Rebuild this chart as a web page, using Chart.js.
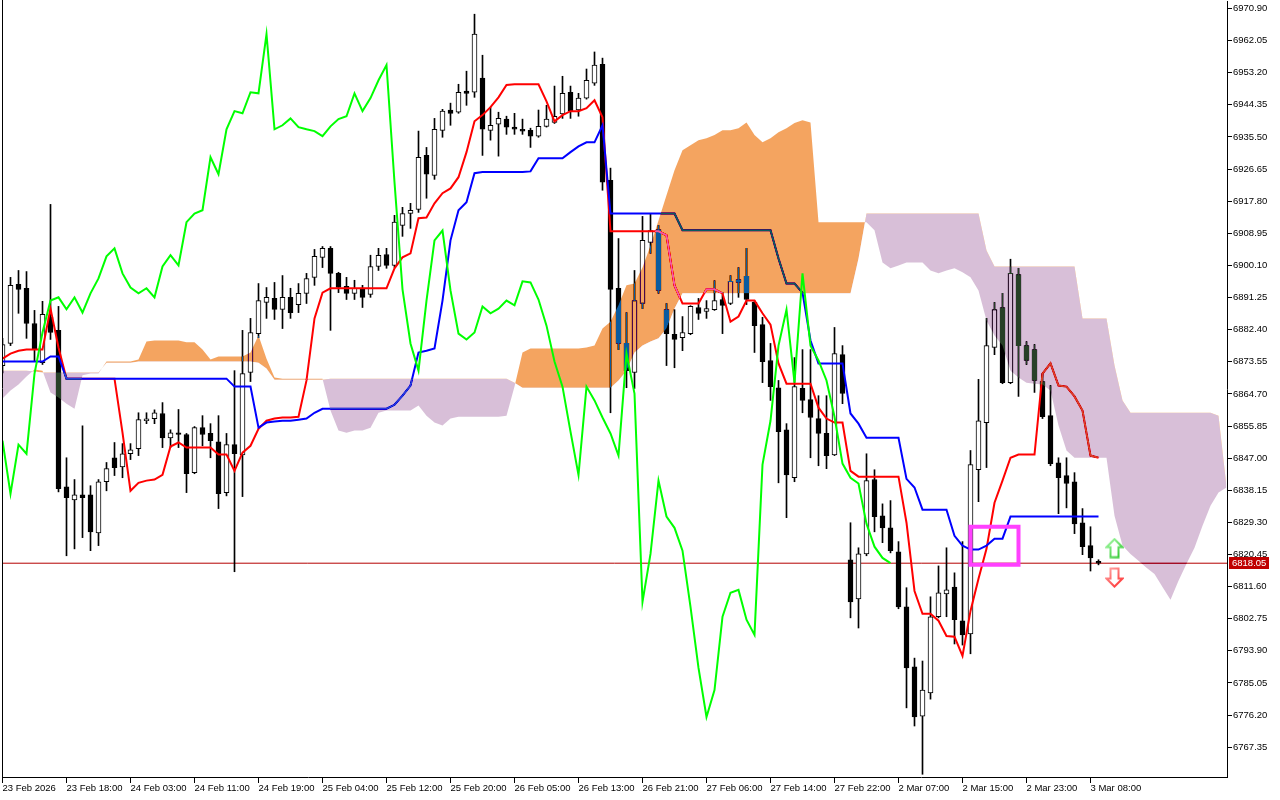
<!DOCTYPE html>
<html>
<head>
<meta charset="utf-8">
<script src="https://cdn.jsdelivr.net/npm/chart.js@4.4.1/dist/chart.umd.min.js"></script>
<style>
html, body { margin: 0; padding: 0; background: #fff; }
canvas { display: block; }
</style>
</head>
<body>
<canvas id="chart" width="1280" height="800"></canvas>
<script>
// hourly candles, bar index 0..137
const opens = [6872.5,6878.6,6894.9,6893.8,6884.1,6873.3,6885.8,6882.2,6839.1,6835.5,
  6836.9,6836.9,6826.4,6840.5,6847.1,6844.6,6848.2,6849.6,6857.3,6857.9,
  6859.3,6852.6,6854.0,6853.5,6843.0,6855.4,6853.8,6851.5,6837.5,6850.7,
  6847.9,6870.6,6881.3,6889.9,6891.0,6888.0,6891.3,6889.3,6892.4,6896.8,
  6902.3,6904.8,6897.9,6894.3,6892.4,6893.8,6892.1,6899.8,6903.1,6900.1,
  6911.1,6914.4,6915.5,6930.4,6924.9,6937.3,6942.9,6942.3,6948.1,6947.8,
  6951.7,6937.3,6939.0,6940.4,6938.2,6937.6,6937.3,6935.7,6938.4,6939.5,
  6941.8,6947.8,6942.9,6946.2,6950.3,6955.5,6923.5,6893.8,6878.6,6870.6,
  6889.6,6906.4,6910.0,6887.9,6881.1,6880.2,6881.3,6888.5,6887.4,6887.9,
  6890.7,6889.6,6896.2,6897.1,6889.9,6883.8,6873.9,6866.4,6854.8,6841.6,
  6866.2,6863.1,6857.9,6853.8,6847.9,6875.5,6819.0,6808.2,6820.6,6841.1,
  6831.1,6827.8,6821.2,6806.0,6789.5,6775.9,6782.3,6803.3,6809.6,6811.5,
  6802.2,6798.6,6843.8,6856.8,6877.5,6888.5,6867.8,6897.6,6878.0,6876.9,
  6868.1,6858.7,6845.7,6842.2,6840.5,6829.2,6822.9,6818.6];
const highs = [6880.0,6896.8,6898.7,6898.4,6887.7,6890.2,6916.9,6888.8,6847.1,6841.1,
  6855.9,6839.4,6841.1,6845.8,6851.3,6851.0,6851.0,6859.5,6859.5,6860.3,
  6862.3,6854.8,6860.4,6853.8,6855.7,6858.7,6856.5,6858.7,6853.8,6871.1,
  6882.2,6885.5,6895.1,6894.0,6895.4,6897.3,6893.8,6895.1,6897.9,6904.5,
  6905.3,6905.3,6898.2,6896.8,6896.0,6894.6,6902.9,6904.8,6904.8,6913.9,
  6916.1,6917.2,6937.1,6932.6,6940.6,6943.1,6944.8,6950.0,6953.6,6969.3,
  6958.0,6943.7,6942.3,6941.2,6942.0,6940.4,6937.9,6942.9,6944.2,6949.5,
  6952.2,6949.5,6947.5,6954.2,6958.9,6957.2,6926.9,6907.5,6887.1,6898.7,
  6913.6,6914.4,6911.1,6889.6,6887.9,6886.0,6889.0,6891.0,6890.4,6895.9,
  6892.6,6897.3,6899.5,6904.8,6890.4,6885.8,6878.6,6868.4,6856.5,6874.7,
  6876.9,6876.9,6864.2,6864.2,6883.0,6878.0,6829.2,6822.3,6848.2,6843.8,
  6834.4,6835.3,6824.0,6811.3,6791.9,6791.1,6808.8,6817.3,6822.3,6815.4,
  6824.0,6849.1,6868.7,6885.5,6889.9,6892.4,6901.8,6899.3,6879.1,6878.3,
  6870.3,6867.0,6847.1,6847.1,6843.0,6833.1,6828.1,6819.0];
const lows = [6870.5,6878.0,6886.9,6880.0,6873.6,6872.8,6879.7,6837.7,6820.1,6822.0,
  6825.1,6821.5,6822.9,6838.0,6842.2,6841.6,6846.6,6847.7,6856.5,6856.5,
  6849.9,6849.9,6849.9,6837.5,6842.7,6850.4,6847.1,6833.1,6836.6,6815.7,
  6836.4,6868.1,6880.2,6885.5,6885.2,6882.7,6885.5,6887.1,6889.6,6894.6,
  6899.5,6882.2,6892.6,6890.7,6890.7,6888.5,6891.3,6898.7,6899.3,6899.5,
  6908.1,6910.3,6914.7,6918.6,6923.8,6935.4,6938.7,6942.0,6944.2,6946.4,
  6930.4,6934.6,6930.2,6936.2,6936.2,6936.2,6932.6,6935.4,6938.2,6939.2,
  6940.6,6940.6,6941.2,6945.9,6949.7,6920.8,6859.5,6876.9,6866.4,6866.2,
  6888.2,6903.4,6892.4,6872.5,6871.9,6876.6,6881.0,6885.2,6885.5,6887.7,
  6881.3,6889.3,6891.3,6889.3,6876.1,6867.8,6862.9,6840.2,6830.6,6840.5,
  6859.5,6847.1,6844.9,6844.1,6847.7,6862.0,6803.0,6800.2,6820.1,6826.7,
  6823.7,6820.9,6805.5,6778.2,6773.2,6759.9,6780.6,6803.0,6803.3,6795.8,
  6795.5,6793.1,6835.0,6844.4,6875.5,6867.5,6867.5,6864.0,6872.8,6865.1,
  6857.9,6844.9,6831.7,6833.3,6826.2,6820.4,6815.9,6817.6];
const closes = [6878.3,6894.6,6893.5,6884.1,6876.9,6886.6,6881.6,6838.6,6836.1,6836.9,
  6836.1,6826.7,6840.5,6844.1,6844.4,6848.2,6849.3,6857.6,6857.8,6859.5,
  6852.6,6854.0,6853.5,6842.7,6855.4,6853.5,6851.8,6837.2,6850.7,6848.2,
  6870.3,6881.6,6890.4,6891.3,6888.0,6891.3,6887.1,6892.4,6896.5,6902.6,
  6904.8,6897.9,6894.0,6892.4,6893.8,6891.3,6899.8,6902.9,6900.1,6912.0,
  6914.4,6915.3,6929.9,6925.2,6937.6,6942.6,6942.0,6947.8,6947.5,6963.8,
  6937.6,6938.7,6940.6,6938.2,6937.6,6937.1,6935.7,6938.4,6940.4,6941.2,
  6947.5,6942.6,6946.2,6951.1,6955.3,6923.0,6893.5,6878.6,6871.1,6890.4,
  6907.0,6909.7,6893.2,6881.3,6879.7,6881.6,6888.8,6886.9,6888.2,6890.4,
  6889.1,6895.7,6895.4,6890.7,6883.5,6873.6,6866.7,6854.3,6842.4,6866.7,
  6862.9,6858.2,6853.8,6847.7,6875.8,6864.8,6807.4,6820.6,6840.8,6830.9,
  6827.8,6821.5,6806.0,6789.2,6775.7,6783.1,6803.3,6809.9,6810.7,6802.5,
  6798.3,6845.2,6857.3,6878.0,6887.9,6867.8,6897.9,6878.0,6873.9,6868.4,
  6858.4,6845.5,6841.6,6840.0,6828.9,6822.6,6819.5,6818.05];

// Ichimoku lines
const tenkan = [6874.4,6875.8,6876.6,6876.9,6876.9,6876.9,6888.2,6877.5,6868.9,6868.9,
  6868.9,6868.9,6868.9,6868.9,6868.9,6854.0,6838.0,6840.2,6840.8,6841.1,
  6842.4,6850.2,6851.3,6849.9,6849.9,6849.9,6849.9,6848.0,6848.0,6843.5,
  6848.5,6850.4,6855.1,6857.3,6857.9,6858.2,6858.2,6858.4,6868.4,6885.5,
  6892.6,6893.8,6893.8,6893.8,6893.8,6893.8,6893.8,6893.8,6893.8,6899.3,
  6902.3,6903.4,6913.1,6913.3,6917.2,6920.0,6921.3,6924.4,6931.3,6939.8,
  6941.5,6943.7,6946.4,6949.8,6950.0,6950.0,6950.0,6950.0,6945.3,6939.8,
  6941.5,6942.6,6942.6,6943.4,6945.6,6940.9,6909.5,6909.5,6909.5,6909.5,
  6909.5,6909.5,6909.5,6908.4,6894.6,6889.6,6889.6,6889.6,6893.5,6893.5,
  6892.4,6884.6,6886.0,6890.4,6890.4,6886.9,6883.8,6873.1,6867.5,6867.5,
  6867.5,6867.5,6860.9,6857.9,6856.8,6856.8,6843.5,6841.9,6841.9,6841.9,
  6841.9,6841.9,6841.9,6829.2,6810.4,6804.1,6804.1,6802.2,6798.0,6797.8,
  6792.5,6804.9,6813.8,6822.0,6834.7,6840.8,6847.1,6848.0,6848.0,6848.0,
  6870.3,6873.1,6867.0,6866.7,6864.0,6860.1,6847.7,6847.1];
const kijun = [6873.6,6873.6,6873.6,6873.6,6873.6,6873.6,6875.0,6875.0,6868.9,6868.9,
  6868.9,6868.9,6868.9,6868.9,6868.9,6868.9,6868.9,6868.9,6868.9,6868.9,
  6868.9,6868.9,6868.9,6868.9,6868.9,6868.9,6868.9,6868.9,6868.9,6866.7,
  6866.7,6866.7,6855.4,6856.8,6857.1,6857.3,6857.3,6857.6,6857.9,6859.5,
  6860.6,6860.6,6860.6,6860.6,6860.6,6860.6,6860.6,6860.6,6860.6,6861.7,
  6864.2,6867.0,6876.1,6876.6,6877.2,6890.4,6907.0,6915.3,6917.5,6925.5,
  6925.8,6925.8,6925.8,6925.8,6925.8,6925.8,6926.0,6929.6,6929.6,6929.6,
  6929.6,6931.3,6932.9,6934.0,6934.0,6938.7,6914.4,6914.4,6914.4,6914.4,
  6914.4,6914.4,6914.4,6914.4,6914.4,6909.8,6909.8,6909.8,6909.8,6909.8,
  6909.8,6909.8,6909.8,6909.8,6909.8,6909.8,6909.8,6902.0,6895.1,6895.1,
  6892.6,6879.4,6873.1,6873.1,6873.1,6873.1,6859.3,6856.5,6852.6,6852.6,
  6852.6,6852.6,6852.6,6841.3,6838.9,6832.8,6832.8,6832.8,6832.8,6825.6,
  6822.9,6821.8,6821.8,6822.9,6824.8,6824.8,6830.9,6830.9,6830.9,6830.9,
  6830.9,6830.9,6830.9,6830.9,6830.9,6830.9,6830.9,6830.9];
// lagging line, bars 0..111
const chikou = [6851.8,6837.2,6850.7,6848.2,6870.3,6881.6,6890.4,6891.3,6888.0,6891.3,
  6887.1,6892.4,6896.5,6902.6,6904.8,6897.9,6894.0,6892.4,6893.8,6891.3,
  6899.8,6902.9,6900.1,6912.0,6914.4,6915.3,6929.9,6925.2,6937.6,6942.6,
  6942.0,6947.8,6947.5,6963.8,6937.6,6938.7,6940.6,6938.2,6937.6,6937.1,
  6935.7,6938.4,6940.4,6941.2,6947.5,6942.6,6946.2,6951.1,6955.3,6923.0,
  6893.5,6878.6,6871.1,6890.4,6907.0,6909.7,6893.2,6881.3,6879.7,6881.6,
  6888.8,6886.9,6888.2,6890.4,6889.1,6895.7,6895.4,6890.7,6883.5,6873.6,
  6866.7,6854.3,6842.4,6866.7,6862.9,6858.2,6853.8,6847.7,6875.8,6864.8,
  6807.4,6820.6,6840.8,6830.9,6827.8,6821.5,6806.0,6789.2,6775.7,6783.1,
  6803.3,6809.9,6810.7,6802.5,6798.3,6845.2,6857.3,6878.0,6887.9,6867.8,
  6897.9,6878.0,6873.9,6868.4,6858.4,6845.5,6841.6,6840.0,6828.9,6822.6,
  6819.5,6818.05];
// cloud edges, bars 0..153
const spanA = [6863.4,6865.6,6867.3,6869.5,6871.4,6871.1,6865.1,6863.7,6862.0,6860.6,
  6869.8,6870.3,6870.3,6873.6,6873.6,6873.6,6873.6,6874.2,6879.1,6879.4,
  6879.4,6879.4,6879.4,6878.9,6878.9,6876.9,6874.2,6875.0,6875.0,6875.0,
  6875.0,6876.1,6880.8,6874.4,6869.2,6868.9,6868.9,6868.9,6868.9,6868.9,
  6868.9,6860.1,6854.6,6854.0,6854.6,6854.6,6855.4,6859.5,6860.1,6860.1,
  6860.1,6860.1,6861.5,6858.7,6856.8,6856.0,6857.9,6858.4,6858.4,6858.4,
  6858.4,6858.4,6858.4,6858.7,6866.7,6876.1,6877.2,6877.2,6877.2,6877.2,
  6877.2,6877.2,6877.2,6877.5,6878.0,6882.7,6884.6,6889.1,6894.6,6895.1,
  6899.5,6905.6,6912.5,6919.4,6926.3,6931.8,6933.2,6934.6,6935.1,6936.0,
  6937.3,6937.3,6937.9,6939.5,6936.0,6934.0,6935.1,6936.8,6937.9,6939.3,
  6940.1,6939.5,6912.0,6912.0,6912.0,6912.0,6912.0,6912.0,6912.0,6909.8,
  6900.9,6899.3,6900.1,6900.9,6900.9,6900.9,6898.7,6897.9,6898.7,6899.3,
  6898.2,6896.8,6893.2,6884.9,6880.8,6878.0,6871.1,6869.2,6867.8,6867.5,
  6867.3,6865.6,6856.0,6849.1,6847.1,6847.1,6847.1,6847.1,6847.1,6831.1,
  6822.9,6820.6,6818.7,6816.8,6815.1,6811.5,6808.0,6813.2,6817.9,6822.3,
  6828.4,6833.9,6837.5,6838.9];
const spanB = [6871.1,6871.1,6871.1,6871.1,6870.9,6870.6,6870.6,6870.6,6870.6,6870.6,
  6870.6,6870.6,6870.6,6873.3,6873.3,6873.3,6873.3,6873.6,6873.6,6873.6,
  6873.6,6873.6,6873.6,6873.6,6873.6,6873.6,6873.6,6873.6,6873.6,6873.6,
  6873.6,6873.6,6873.3,6871.7,6868.6,6868.6,6868.6,6868.6,6868.6,6868.6,
  6868.6,6868.9,6868.9,6868.9,6868.9,6868.9,6868.9,6868.9,6868.9,6868.9,
  6868.9,6868.9,6868.9,6868.9,6868.9,6868.9,6868.9,6868.9,6868.9,6868.9,
  6868.9,6868.9,6868.9,6868.9,6867.8,6866.4,6866.4,6866.4,6866.4,6866.4,
  6866.4,6866.4,6866.4,6866.4,6866.4,6866.4,6866.4,6868.4,6871.1,6876.1,
  6878.0,6879.1,6880.0,6882.7,6888.2,6892.4,6892.4,6892.4,6892.4,6892.4,
  6892.4,6892.4,6892.4,6892.4,6892.4,6892.4,6892.4,6892.4,6892.4,6892.4,
  6892.4,6892.4,6892.4,6892.4,6892.4,6892.4,6892.4,6902.0,6914.4,6914.4,
  6914.4,6914.4,6914.4,6914.4,6914.4,6914.4,6914.4,6914.4,6914.4,6914.4,
  6914.4,6914.4,6914.4,6904.2,6899.8,6899.8,6899.8,6899.8,6899.8,6899.8,
  6899.8,6899.8,6899.8,6899.8,6899.8,6885.5,6885.5,6885.5,6885.5,6872.5,
  6862.9,6859.5,6859.5,6859.5,6859.5,6859.5,6859.5,6859.5,6859.5,6859.5,
  6859.5,6859.5,6858.7,6839.1];

const timeTickBars = [0, 8, 16, 24, 32, 40, 48, 56, 64, 72, 80, 88, 96, 104, 112, 120, 128, 136];
const timeLabels = ['23 Feb 2026', '23 Feb 18:00', '24 Feb 03:00', '24 Feb 11:00', '24 Feb 19:00',
  '25 Feb 04:00', '25 Feb 12:00', '25 Feb 20:00', '26 Feb 05:00', '26 Feb 13:00', '26 Feb 21:00',
  '27 Feb 06:00', '27 Feb 14:00', '27 Feb 22:00', '2 Mar 07:00', '2 Mar 15:00', '2 Mar 23:00', '3 Mar 08:00'];
const priceTicks = [6767.35, 6776.20, 6785.05, 6793.90, 6802.75, 6811.60, 6820.45, 6829.30,
  6838.15, 6847.00, 6855.85, 6864.70, 6873.55, 6882.40, 6891.25, 6900.10, 6908.95, 6917.80,
  6926.65, 6935.50, 6944.35, 6953.20, 6962.05, 6970.90];
const lastPrice = 6818.05;
const boxBars = [121, 127];
const boxPrices = [6817.6, 6828.1];
const arrowBar = 139;
const arrowUpPrice = 6822.2;
const arrowDownPrice = 6814.1;

const FONT = { family: '"Liberation Sans", Arial, sans-serif', size: 9.5 };

function makeArrow(up, c1, c2) {
  const cv = document.createElement('canvas');
  cv.width = 19; cv.height = 21;
  const g = cv.getContext('2d');
  let pts = [[9.5, 1.5], [17.5, 9.5], [13.5, 9.5], [13.5, 19.5], [5.5, 19.5], [5.5, 9.5], [1.5, 9.5]];
  if (!up) pts = pts.map(p => [p[0], 21 - p[1]]);
  g.beginPath();
  pts.forEach((p, i) => i ? g.lineTo(p[0], p[1]) : g.moveTo(p[0], p[1]));
  g.closePath();
  g.fillStyle = '#fff';
  g.fill();
  const grad = g.createLinearGradient(0, 0, 19, 21);
  grad.addColorStop(0, c1);
  grad.addColorStop(1, c2);
  g.strokeStyle = grad;
  g.lineWidth = 2;
  g.stroke();
  return cv;
}

const bars = closes.map((c, i) => i);
const SPAN_B = 5, SPAN_A = 6;

const cloudBlend = {
  id: 'cloudBlend',
  beforeDatasetDraw(chart, args) {
    if (args.index === SPAN_B) chart.ctx.globalCompositeOperation = 'difference';
  },
  afterDatasetDraw(chart, args) {
    if (args.index === SPAN_A) chart.ctx.globalCompositeOperation = 'source-over';
  }
};

const frame = {
  id: 'frame',
  beforeDraw(chart) {
    const ctx = chart.ctx;
    ctx.save();
    ctx.fillStyle = '#fff';
    ctx.fillRect(0, 0, chart.width, chart.height);
    ctx.restore();
  },
  afterDraw(chart) {
    const { ctx, chartArea } = chart;
    ctx.save();
    ctx.strokeStyle = '#000';
    ctx.lineWidth = 1;
    ctx.beginPath();
    ctx.moveTo(2.5, chartArea.top - 1);
    ctx.lineTo(2.5, chartArea.bottom);
    ctx.stroke();
    // current price tag
    const y = Math.round(chart.scales.y.getPixelForValue(lastPrice));
    ctx.fillStyle = '#c00000';
    ctx.fillRect(1229, y - 6, 40, 12);
    ctx.fillStyle = '#fff';
    ctx.font = '9.5px "Liberation Sans", Arial, sans-serif';
    ctx.textBaseline = 'middle';
    ctx.fillText(lastPrice.toFixed(2), 1232, y + 0.5);
    ctx.restore();
  }
};

const line = (data, color, order, width) => ({
  type: 'line', data, borderColor: color, borderWidth: width || 2, pointRadius: 0,
  fill: false, tension: 0, order
});

new Chart(document.getElementById('chart'), {
  type: 'line',
  data: {
    datasets: [
      line([{ x: -1, y: lastPrice }, { x: 154, y: lastPrice }], '#b40000', 12, 1),
      {
        type: 'bar', data: bars.map(i => ({ x: i, y: [lows[i], highs[i]] })),
        backgroundColor: '#000', barThickness: 1, grouped: false, order: 11
      },
      {
        type: 'bar', data: bars.map(i => ({ x: i, y: [opens[i], closes[i]] })),
        backgroundColor: bars.map(i => closes[i] >= opens[i] ? '#fff' : '#000'),
        borderColor: '#000', borderWidth: 1, borderSkipped: false,
        barThickness: 5, grouped: false, order: 10
      },
      line(tenkan.map((v, i) => ({ x: i, y: v })), '#ff0000', 7),
      line(kijun.map((v, i) => ({ x: i, y: v })), '#0000ff', 6),
      {
        type: 'line', data: spanB.map((v, i) => ({ x: i, y: v })),
        borderColor: 'rgba(0,0,0,0)', borderWidth: 1, pointRadius: 0, fill: false, order: 4
      },
      {
        type: 'line', data: spanA.map((v, i) => ({ x: i, y: v })),
        borderColor: 'rgba(0,0,0,0)', borderWidth: 1, pointRadius: 0, order: 3,
        // inverted colours, drawn with 'difference' so white shows sandybrown / thistle
        fill: { target: SPAN_B, above: 'rgb(11,91,159)', below: 'rgb(39,64,39)' }
      },
      line(chikou.map((v, i) => ({ x: i, y: v })), '#00ff00', 2),
      {
        type: 'line',
        data: [
          { x: boxBars[0], y: boxPrices[1] }, { x: boxBars[1], y: boxPrices[1] },
          { x: boxBars[1], y: boxPrices[0] }, { x: boxBars[0], y: boxPrices[0] },
          { x: boxBars[0], y: boxPrices[1] }
        ],
        borderColor: '#ff40ff', borderWidth: 4, pointRadius: 0, fill: false,
        borderJoinStyle: 'miter', borderCapStyle: 'square', order: 1
      },
      {
        type: 'line', showLine: false,
        data: [{ x: arrowBar, y: arrowUpPrice }, { x: arrowBar, y: arrowDownPrice }],
        pointStyle: [makeArrow(true, '#b0ffb0', '#20c020'), makeArrow(false, '#ffb0b0', '#ff2020')],
        pointRadius: 10, order: 0
      }
    ]
  },
  options: {
    responsive: false,
    animation: false,
    devicePixelRatio: 1,
    layout: { autoPadding: false, padding: { left: 2, top: 1, right: 0, bottom: 0 } },
    plugins: { legend: { display: false }, tooltip: { enabled: false } },
    scales: {
      x: {
        type: 'linear', position: 'bottom', min: -0.0625, max: 153.0625, offset: false,
        afterBuildTicks: s => { s.ticks = timeTickBars.map(v => ({ value: v })); },
        afterFit: s => { s.height = 23; s.paddingLeft = 0; s.paddingRight = 0; },
        grid: { drawOnChartArea: false, drawTicks: true, tickLength: 6, color: '#000', offset: false },
        border: { display: true, color: '#000', width: 1 },
        ticks: {
          autoSkip: false, maxRotation: 0, align: 'start', padding: 0, color: '#000', font: FONT,
          callback: (v, i) => timeLabels[i]
        }
      },
      y: {
        type: 'linear', position: 'right', min: 6759.15, max: 6972.94,
        afterBuildTicks: s => { s.ticks = priceTicks.map(v => ({ value: v })); },
        afterFit: s => { s.width = 53; s.paddingTop = 0; s.paddingBottom = 0; },
        grid: { drawOnChartArea: false, drawTicks: true, tickLength: 5, color: '#000' },
        border: { display: true, color: '#000', width: 1 },
        ticks: { padding: 1, color: '#000', font: FONT, callback: v => v.toFixed(2) }
      }
    }
  },
  plugins: [cloudBlend, frame]
});
</script>
</body>
</html>
